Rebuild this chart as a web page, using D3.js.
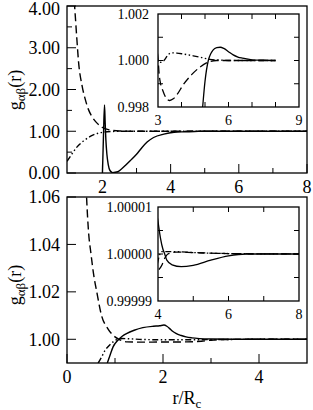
<!DOCTYPE html>
<html><head><meta charset="utf-8">
<script src="https://cdn.jsdelivr.net/npm/d3@7/dist/d3.min.js"></script>
<style>body{margin:0;background:#fff}svg{display:block}</style>
</head><body><svg id="c" width="313" height="410" font-family="'Liberation Serif', 'Times New Roman', 'DejaVu Serif', serif"></svg>
<script>
// ---- data: top panel (r, g)
const topSolid = [[2.0,0],[2.03,0.9],[2.06,1.63],[2.08,1.2],[2.1,0.8],[2.13,0.45],[2.17,0.2],[2.22,0.06],[2.3,0.01],[2.45,0.03],[2.55,0.09],[2.67,0.18],[2.82,0.3],[3.0,0.45],[3.15,0.6],[3.31,0.74],[3.5,0.85],[3.8,0.93],[4.1,0.975],[4.4,0.988],[4.7,0.9955],[4.9,0.998],[5.0,0.9991],[5.14,1.0],[5.25,1.0003],[5.35,1.00046],[5.5,1.00055],[5.65,1.00057],[5.8,1.00052],[6.0,1.00038],[6.2,1.00024],[6.4,1.00015],[6.6,1.0001],[7.0,1.00003],[7.5,1.00001],[8,1.0]];
const topDashed = [[1.15,4.4],[1.2,3.8],[1.25,3.2],[1.3,2.65],[1.4,2.1],[1.5,1.75],[1.6,1.5],[1.7,1.34],[1.8,1.23],[1.9,1.15],[2.0,1.09],[2.2,1.035],[2.5,1.006],[2.8,1.0012],[3.0,1.0001],[3.05,0.9994],[3.1,0.99905],[3.2,0.99872],[3.35,0.99838],[3.5,0.99828],[3.65,0.99835],[3.8,0.99852],[4.07,0.99895],[4.42,0.99938],[4.78,0.99971],[5.14,0.99993],[5.5,1.0],[6,1.0],[8,1.0]];
const topDashDot = [[0.96,0.28],[1.1,0.45],[1.25,0.62],[1.45,0.77],[1.7,0.9],[2.0,0.975],[2.3,0.995],[2.6,0.999],[2.9,0.9998],[3.0,0.99995],[3.15,0.99992],[3.28,1.00003],[3.43,1.00025],[3.6,1.00033],[3.8,1.00032],[4.07,1.00028],[4.5,1.0002],[4.8,1.00014],[5.2,1.00005],[5.6,1.00002],[6.0,1.0],[8,1.0]];
// ---- data: bottom panel (r, g)
const botSolid = [[0.84,0.99],[0.9,0.9935],[0.96,0.9968],[1.06,0.9996],[1.15,1.0013],[1.24,1.0024],[1.4,1.0038],[1.58,1.0049],[1.8,1.0055],[1.93,1.0057],[2.02,1.006],[2.08,1.0055],[2.14,1.0045],[2.2,1.0034],[2.27,1.0025],[2.38,1.0016],[2.48,1.001],[2.6,1.0006],[2.76,1.0003],[3.0,1.00012],[3.5,1.00003],[4.0,1.0000069],[4.07,1.0000034],[4.14,1.000001],[4.19,1.0],[4.25,0.9999987],[4.4,0.9999977],[4.66,0.9999973],[5.0,0.9999976],[5.5,0.9999987],[6.0,0.9999996],[6.5,1.0],[8,1.0]];
const botDashed = [[0.38,1.075],[0.41,1.059],[0.45,1.045],[0.5,1.036],[0.55,1.028],[0.62,1.02],[0.72,1.01],[0.85,1.0045],[1.0,1.001],[1.1,0.9998],[1.25,0.9989],[1.5,0.9988],[2.0,0.99885],[2.5,0.9989],[2.8,0.9992],[3.0,0.9996],[3.3,0.9999],[3.6,0.99998],[4.0,0.9999962],[4.1,0.9999975],[4.2,0.9999992],[4.28,1.0],[4.5,1.0000004],[5.0,1.0000003],[6,1.0000001],[8,1.0]];
const botDashDot = [[0.65,0.99],[0.72,0.9925],[0.79,0.9952],[0.9,0.9978],[1.03,0.9998],[1.15,1.0003],[1.3,1.0002],[1.6,0.9999],[2.0,0.9998],[2.5,0.9998],[3.0,0.99985],[3.5,0.99995],[4.0,0.9999985],[4.1,1.0000005],[4.5,1.0000005],[5.0,1.0000003],[6,1.0000001],[8,1.0]];
// ---- tick labels
const topYTicks = ["0.00","1.00","2.00","3.00","4.00"];
const topXTicks = ["2","4","6","8"];
const topInsetYTicks = ["0.998","1.000","1.002"];
const topInsetXTicks = ["3","6","9"];
const botYTicks = ["1.00","1.02","1.04","1.06"];
const botXTicks = ["0","2","4"];
const botInsetYTicks = ["0.99999","1.00000","1.00001"];
const botInsetXTicks = ["4","6","8"];

const svg = d3.select("#c");
const styles = {solid:null, dashed:"8,4", dashdot:"6,2.5,1.5,2.5,1.5,2.5"};
let clipId = 0;

function panel(o){
  const x = d3.scaleLinear().domain(o.xd).range([o.x0,o.x1]);
  const y = d3.scaleLinear().domain(o.yd).range([o.y1,o.y0]);
  const g = svg.append("g");
  const id = "clip"+(clipId++);
  g.append("clipPath").attr("id",id).append("rect").attr("x",o.x0).attr("y",o.y0).attr("width",o.x1-o.x0).attr("height",o.y1-o.y0);
  g.append("rect").attr("x",o.x0).attr("y",o.y0).attr("width",o.x1-o.x0).attr("height",o.y1-o.y0).attr("fill","#fff");
  const line = d3.line().x(d=>x(d[0])).y(d=>y(d[1])).curve(d3.curveMonotoneX);
  const lg = g.append("g").attr("clip-path",`url(#${id})`);
  o.series.forEach(s=>{
    lg.append("path").attr("d",line(s.data)).attr("fill","none").attr("stroke","#000")
      .attr("stroke-width",o.lw).attr("stroke-dasharray",styles[s.style]);
  });
  const tk = g.append("g").attr("stroke","#000").attr("stroke-width",1);
  const xt = (vals,len)=>vals.forEach(v=>{
    tk.append("line").attr("x1",x(v)).attr("x2",x(v)).attr("y1",o.y1).attr("y2",o.y1-len);
    if(o.box) tk.append("line").attr("x1",x(v)).attr("x2",x(v)).attr("y1",o.y0).attr("y2",o.y0+len);
  });
  const yt = (vals,len)=>vals.forEach(v=>{
    tk.append("line").attr("x1",o.x0).attr("x2",o.x0+len).attr("y1",y(v)).attr("y2",y(v));
    if(o.box) tk.append("line").attr("x1",o.x1).attr("x2",o.x1-len).attr("y1",y(v)).attr("y2",y(v));
  });
  xt(o.xMajor,o.tMaj); xt(o.xMinor||[],o.tMin);
  yt(o.yMajor,o.tMaj); yt(o.yMinor||[],o.tMin);
  g.append("rect").attr("x",o.x0).attr("y",o.y0).attr("width",o.x1-o.x0).attr("height",o.y1-o.y0)
    .attr("fill","none").attr("stroke","#000").attr("stroke-width",1.3);
  o.yLabels.forEach(t=>{
    g.append("text").attr("x",o.x0-o.yPad).attr("y",Math.max(y(+t),o.yMinPos||0)).attr("dy","0.35em").attr("text-anchor","end")
      .attr("font-size",o.fs).text(t);
  });
  o.xLabels.forEach(t=>{
    g.append("text").attr("x",x(+t)).attr("y",o.y1+o.xPad).attr("text-anchor","middle")
      .attr("font-size",o.fs).text(t);
  });
  return {x,y};
}

panel({x0:67,x1:307,y0:6,y1:173,xd:[0.96,8],yd:[0,4],lw:1.4,box:false,tMaj:9,tMin:5,
  xMajor:[2,4,6,8],xMinor:[3,5,7],yMajor:[0,1,2,3,4],yMinor:[0.5,1.5,2.5,3.5],
  yLabels:topYTicks,xLabels:topXTicks,yPad:7,xPad:20,fs:18,yMinPos:9,
  series:[{data:topSolid,style:"solid"},{data:topDashed,style:"dashed"},{data:topDashDot,style:"dashdot"}]});
panel({x0:158,x1:299,y0:14,y1:107,xd:[3,9],yd:[0.998,1.002],lw:1.3,box:true,tMaj:5,tMin:5,
  xMajor:[4,5,6,7,8],yMajor:[0.999,1.0,1.001],
  yLabels:topInsetYTicks,xLabels:topInsetXTicks,yPad:9,xPad:18,fs:14,
  series:[{data:topSolid,style:"solid"},{data:topDashed,style:"dashed"},{data:topDashDot,style:"dashdot"}]});
panel({x0:67,x1:307,y0:197,y1:363,xd:[0,5],yd:[0.99,1.06],lw:1.4,box:false,tMaj:9,tMin:5,
  xMajor:[0,2,4],xMinor:[1,3],yMajor:[1.0,1.02,1.04,1.06],
  yLabels:botYTicks,xLabels:botXTicks,yPad:7,xPad:20,fs:18,
  series:[{data:botSolid,style:"solid"},{data:botDashed,style:"dashed"},{data:botDashDot,style:"dashdot"}]});
panel({x0:158,x1:299,y0:207,y1:301,xd:[4,8],yd:[0.99999,1.00001],lw:1.3,box:true,tMaj:5,tMin:5,
  xMajor:[5,6,7],yMajor:[0.999995,1.0,1.000005],
  yLabels:botInsetYTicks,xLabels:botInsetXTicks,yPad:6,xPad:18,fs:14,
  series:[{data:botSolid,style:"solid"},{data:botDashed,style:"dashed"},{data:botDashDot,style:"dashdot"}]});

function ylab(cy){
  const t = svg.append("text").attr("transform",`translate(21,${cy}) rotate(-90)`).attr("text-anchor","middle").attr("font-size",18);
  t.append("tspan").text("g");
  t.append("tspan").attr("font-size",13).attr("dy",4).text("αβ");
  t.append("tspan").attr("dy",-4).text("(r)");
}
ylab(90); ylab(285);
const xl = svg.append("text").attr("x",187).attr("y",404).attr("text-anchor","middle").attr("font-size",18);
xl.append("tspan").text("r/R");
xl.append("tspan").attr("font-size",13).attr("dy",4).text("c");
</script></body></html>
